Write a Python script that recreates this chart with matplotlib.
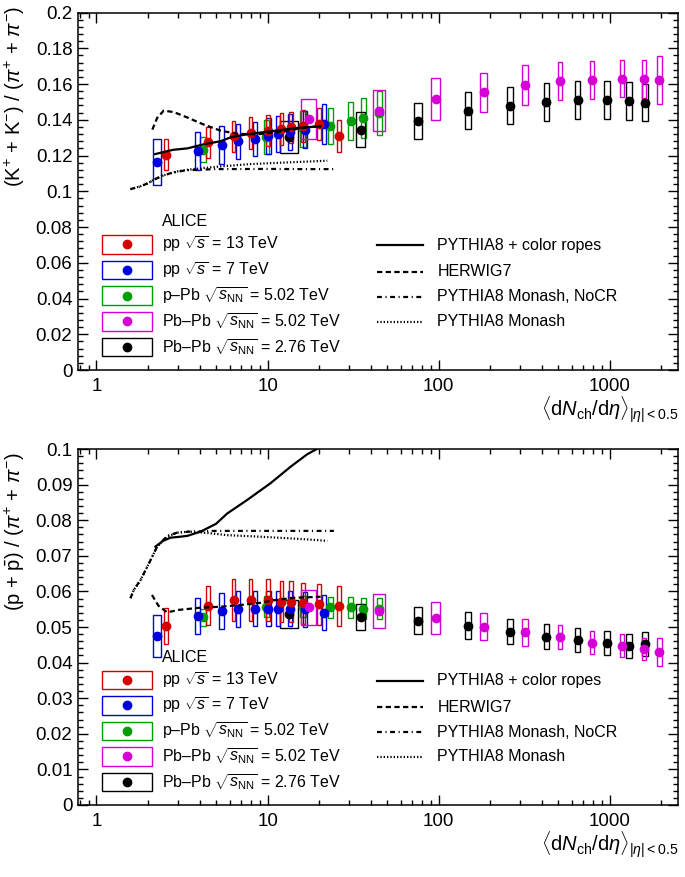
import matplotlib
matplotlib.use("Agg")
import matplotlib.pyplot as plt
from matplotlib.patches import Rectangle
from matplotlib.ticker import LogLocator, MultipleLocator, NullFormatter

plt.rcParams["font.family"] = ["Liberation Sans", "DejaVu Sans"]
plt.rcParams["mathtext.fontset"] = "custom"
plt.rcParams["mathtext.rm"] = "Liberation Sans"
plt.rcParams["mathtext.it"] = "Liberation Sans:italic"
plt.rcParams["mathtext.bf"] = "Liberation Sans:bold"

# ---- ALICE data ----
# pp 13 TeV
pp13_x = [2.55, 4.50, 6.32, 7.95, 10.02, 12.04, 13.77, 16.17, 20.02, 26.02]
pp13_dx = [0.07, 0.12, 0.16, 0.20, 0.25, 0.30, 0.35, 0.40, 0.50, 0.65]
pp13_kpi = [0.1204, 0.1274, 0.1307, 0.1326, 0.1339, 0.1348, 0.1357, 0.1367, 0.1376, 0.1307]
pp13_kpi_sys = [0.0087, 0.0088, 0.0088, 0.0088, 0.0088, 0.0088, 0.0088, 0.0089, 0.0089, 0.0090]
pp13_ppi = [0.0503, 0.0560, 0.0576, 0.0576, 0.0576, 0.0571, 0.0571, 0.0567, 0.0564, 0.0559]
pp13_ppi_sys = [0.0050, 0.0055, 0.0060, 0.0058, 0.0058, 0.0058, 0.0058, 0.0058, 0.0057, 0.0055]

# pp 7 TeV
pp7_x = [2.26, 3.90, 5.40, 6.72, 8.45, 10.1, 11.5, 13.5, 16.5, 21.3]
pp7_dx = [0.12, 0.14, 0.17, 0.21, 0.25, 0.30, 0.33, 0.40, 0.50, 0.60]
pp7_kpi = [0.1164, 0.1227, 0.1260, 0.1279, 0.1294, 0.1310, 0.1320, 0.1331, 0.1345, 0.1376]
pp7_kpi_sys = [0.0128, 0.0106, 0.0105, 0.0100, 0.0095, 0.0100, 0.0100, 0.0100, 0.0105, 0.0110]
pp7_ppi = [0.0475, 0.0531, 0.0545, 0.0551, 0.0552, 0.0552, 0.0552, 0.0552, 0.0550, 0.0540]
pp7_ppi_sys = [0.0058, 0.0050, 0.0050, 0.0050, 0.0049, 0.0049, 0.0049, 0.0049, 0.0049, 0.0049]

# p-Pb 5.02 TeV
ppb_x = [4.2, 9.8, 16.1, 23.2, 30.5, 36.2, 45.0]
ppb_dx = [0.15, 0.33, 0.55, 0.80, 1.05, 1.25, 1.50]
ppb_kpi = [0.1232, 0.1302, 0.1350, 0.1367, 0.1395, 0.1410, 0.1438]
ppb_kpi_sys = [0.0070, 0.0095, 0.0100, 0.0100, 0.0107, 0.0112, 0.0124]
ppb_ppi = [0.0527, 0.0557, 0.0557, 0.0555, 0.0555, 0.0552, 0.0552]
ppb_ppi_sys = [0.0024, 0.0030, 0.0030, 0.0030, 0.0030, 0.0030, 0.0030]

# Pb-Pb 5.02 TeV
pbpb5_x = [17.5, 44.9, 96.3, 183, 318, 512, 786, 1180, 1587, 1943]
pbpb5_dx = [1.8, 3.4, 5.8, 8, 12, 16, 22, 33, 46, 60]
pbpb5_kpi = [0.1404, 0.1451, 0.1516, 0.1554, 0.1595, 0.1617, 0.1623, 0.1630, 0.1628, 0.1621]
pbpb5_kpi_sys = [0.0110, 0.0116, 0.0117, 0.0110, 0.0110, 0.0105, 0.0105, 0.0102, 0.0106, 0.0134]
pbpb5_ppi = [0.0555, 0.0546, 0.0526, 0.0501, 0.0485, 0.0473, 0.0456, 0.0447, 0.0438, 0.0429]
pbpb5_ppi_sys = [0.0049, 0.0048, 0.0045, 0.0038, 0.0037, 0.0034, 0.0033, 0.0032, 0.0032, 0.0039]

# Pb-Pb 2.76 TeV
pbpb2_x = [13.4, 35, 76, 149, 261, 426, 649, 966, 1294, 1601]
pbpb2_dx = [1.6, 2.0, 4.0, 6.0, 9.0, 15, 23, 37, 49, 60]
pbpb2_kpi = [0.1303, 0.1345, 0.1395, 0.1451, 0.1479, 0.1500, 0.1509, 0.1509, 0.1507, 0.1496]
pbpb2_kpi_sys = [0.0089, 0.0096, 0.0100, 0.0103, 0.0105, 0.0106, 0.0107, 0.0107, 0.0107, 0.0105]
pbpb2_ppi = [0.0536, 0.0529, 0.0517, 0.0504, 0.0487, 0.0473, 0.0463, 0.0454, 0.0447, 0.0452]
pbpb2_ppi_sys = [0.0040, 0.0037, 0.0038, 0.0037, 0.0036, 0.0035, 0.0034, 0.0034, 0.0034, 0.0033]

# ---- model curves ----
ropes_kpi_x = [2.2, 2.8, 3.4, 4.2, 5.3, 6.1, 7.5, 9.5, 12, 14.9, 17.5, 20.4]
ropes_kpi = [0.1208, 0.1232, 0.1240, 0.1262, 0.1280, 0.1302, 0.1318, 0.1331, 0.1343, 0.1354, 0.1359, 0.1363]
herwig_kpi_x = [2.12, 2.26, 2.47, 2.83, 3.39, 4.24, 5.31, 6.6, 8.5, 11, 14, 18, 20.5]
herwig_kpi = [0.1345, 0.1410, 0.1451, 0.1443, 0.1413, 0.1373, 0.1339, 0.1322, 0.1318, 0.1328, 0.1345, 0.1360, 0.1365]
nocr_kpi_x = [1.58, 1.8, 2.0, 2.16, 2.4, 2.71, 3.0, 3.39, 5, 10, 16, 24.4]
nocr_kpi = [0.1012, 0.1027, 0.1045, 0.1064, 0.1085, 0.1101, 0.1110, 0.1118, 0.1124, 0.1125, 0.1124, 0.1124]
monash_kpi_x = [1.58, 1.8, 2.0, 2.16, 2.4, 2.71, 3.0, 3.39, 4.2, 5.3, 7.9, 12, 16, 22.3]
monash_kpi = [0.1012, 0.1027, 0.1045, 0.1064, 0.1085, 0.1101, 0.1112, 0.1120, 0.1130, 0.1139, 0.1152, 0.1160, 0.1165, 0.1171]

ropes_ppi_x = [2.21, 2.45, 2.71, 3.0, 3.39, 4.06, 5.0, 5.81, 7.6, 10.4, 13.6, 17, 19.7]
ropes_ppi = [0.0726, 0.0742, 0.0751, 0.0753, 0.0756, 0.0768, 0.0790, 0.0819, 0.0857, 0.0904, 0.0950, 0.0985, 0.1002]
herwig_ppi_x = [2.11, 2.3, 2.59, 3.0, 4.0, 5.3, 7.0, 9.1, 10.8, 14.2, 20.4]
herwig_ppi = [0.0590, 0.0560, 0.0541, 0.0548, 0.0554, 0.0557, 0.0562, 0.0568, 0.0575, 0.0582, 0.0585]
nocr_ppi_x = [1.58, 1.65, 1.81, 2.07, 2.26, 2.59, 2.96, 3.5, 5, 10, 16, 24.4]
nocr_ppi = [0.0581, 0.0604, 0.0632, 0.0688, 0.0726, 0.0756, 0.0765, 0.0768, 0.0770, 0.0770, 0.0770, 0.0770]
monash_ppi_x = [1.58, 1.65, 1.81, 2.07, 2.26, 2.59, 2.96, 3.5, 4.5, 5.8, 8, 11.4, 16, 22.3]
monash_ppi = [0.0581, 0.0604, 0.0632, 0.0688, 0.0726, 0.0754, 0.0765, 0.0768, 0.0764, 0.0758, 0.0755, 0.0751, 0.0747, 0.0742]

RED, BLUE, GREEN, MAG, BLK = "#d40000", "#0000dd", "#009e00", "#d600d6", "black"

series_labels = [r"pp $\sqrt{s}$ = 13 TeV", r"pp $\sqrt{s}$ = 7 TeV",
                 r"p–Pb $\sqrt{s_{\mathrm{NN}}}$ = 5.02 TeV",
                 r"Pb–Pb $\sqrt{s_{\mathrm{NN}}}$ = 5.02 TeV",
                 r"Pb–Pb $\sqrt{s_{\mathrm{NN}}}$ = 2.76 TeV"]
series_colors = [RED, BLUE, GREEN, MAG, BLK]
model_labels = ["PYTHIA8 + color ropes", "HERWIG7", "PYTHIA8 Monash, NoCR", "PYTHIA8 Monash"]
model_styles = ["-", (0, (2.4, 1.5)), (0, (2.2, 1.6, 0.5, 1.6)), (0, (0.6, 0.9))]

xlabel = r"$\langle\mathrm{d}N_{\mathrm{ch}}/\mathrm{d}\eta\rangle_{|\eta|<0.5}$"

fig = plt.figure(figsize=(6.85, 8.77), dpi=100)
ax1 = fig.add_axes([0.1139, 0.5781, 0.8759, 0.4076])
ax2 = fig.add_axes([0.1139, 0.0821, 0.8759, 0.4059])


def draw_boxes(ax, xs, dxs, ys, dys, color):
    for x, dx, y, dy in zip(xs, dxs, ys, dys):
        ax.add_patch(Rectangle((x - dx, y - dy), 2 * dx, 2 * dy, fill=False,
                               ec=color, lw=1.0, zorder=2))
    ax.plot(xs, ys, "o", color=color, ms=6, mec=color, zorder=3)


def panel(ax, data, models, ymax, ystep, yminor, ylabel, label_top):
    for xs, dxs, ys, dys, c in data:
        draw_boxes(ax, xs, dxs, ys, dys, c)
    for (mx, my), ls in zip(models, model_styles):
        ax.plot(mx, my, color="black", lw=1.6, linestyle=ls, zorder=4)
    ax.set_xscale("log")
    ax.set_xlim(0.78, 2500)
    ax.set_ylim(0, ymax)
    ax.set_xticks([1, 10, 100, 1000])
    ax.set_xticklabels(["1", "10", "100", "1000"])
    ax.xaxis.set_minor_locator(LogLocator(base=10, subs=range(2, 10), numticks=20))
    ax.xaxis.set_minor_formatter(NullFormatter())
    n = int(round(ymax / ystep))
    yt = [i * ystep for i in range(n + 1)]
    ax.set_yticks(yt)
    ax.set_yticklabels(["0"] + ["%g" % round(v, 3) for v in yt[1:]])
    ax.yaxis.set_minor_locator(MultipleLocator(yminor))
    ax.tick_params(which="both", direction="in", top=True, right=True,
                   labelsize=13.5, width=1.0)
    ax.tick_params(which="major", length=7, pad=4)
    ax.tick_params(which="minor", length=3.8)
    ax.tick_params(axis="x", which="major", pad=6)
    for s in ax.spines.values():
        s.set_linewidth(1.1)
    ax.text(-0.105, label_top, ylabel, transform=ax.transAxes, rotation=90,
            ha="center", va="top", fontsize=14.5)
    ax.annotate(xlabel, xy=(1.0, 0.0), xycoords="axes fraction",
                xytext=(0, -17.5), textcoords="offset points",
                ha="right", va="top", fontsize=14.5)

    # legend (drawn by hand, ROOT style)
    ax.text(0.1395, 0.415, "ALICE", transform=ax.transAxes, ha="left",
            va="center", fontsize=11.5)
    rows = [0.3516, 0.2797, 0.2081, 0.1365, 0.0643]
    for yr, lab, c in zip(rows, series_labels, series_colors):
        ax.add_patch(Rectangle((0.0395, yr - 0.026), 0.0833, 0.052, fill=False,
                               ec=c, lw=1.0, transform=ax.transAxes, clip_on=False))
        ax.plot([0.0812], [yr], "o", color=c, ms=6, transform=ax.transAxes, clip_on=False)
        ax.text(0.1395, yr, lab, transform=ax.transAxes, ha="left", va="center",
                fontsize=11.5)
    mrows = [0.3497, 0.275, 0.205, 0.135]
    for yr, lab, ls in zip(mrows, model_labels, model_styles):
        ax.plot([0.498, 0.5755], [yr, yr], color="black", lw=1.6, linestyle=ls,
                transform=ax.transAxes, clip_on=False)
        ax.text(0.599, yr, lab, transform=ax.transAxes, ha="left", va="center",
                fontsize=11.5)


kpi_data = [
    (ppb_x, ppb_dx, ppb_kpi, ppb_kpi_sys, GREEN),
    (pbpb2_x, pbpb2_dx, pbpb2_kpi, pbpb2_kpi_sys, BLK),
    (pp7_x, pp7_dx, pp7_kpi, pp7_kpi_sys, BLUE),
    (pp13_x, pp13_dx, pp13_kpi, pp13_kpi_sys, RED),
    (pbpb5_x, pbpb5_dx, pbpb5_kpi, pbpb5_kpi_sys, MAG),
]
kpi_models = [(ropes_kpi_x, ropes_kpi), (herwig_kpi_x, herwig_kpi),
              (nocr_kpi_x, nocr_kpi), (monash_kpi_x, monash_kpi)]
ppi_data = [
    (ppb_x, ppb_dx, ppb_ppi, ppb_ppi_sys, GREEN),
    (pbpb2_x, pbpb2_dx, pbpb2_ppi, pbpb2_ppi_sys, BLK),
    (pp7_x, pp7_dx, pp7_ppi, pp7_ppi_sys, BLUE),
    (pp13_x, pp13_dx, pp13_ppi, pp13_ppi_sys, RED),
    (pbpb5_x, pbpb5_dx, pbpb5_ppi, pbpb5_ppi_sys, MAG),
]
ppi_models = [(ropes_ppi_x, ropes_ppi), (herwig_ppi_x, herwig_ppi),
              (nocr_ppi_x, nocr_ppi), (monash_ppi_x, monash_ppi)]

panel(ax1, kpi_data, kpi_models, 0.2, 0.02, 0.004,
      r"(K$^{+}$ + K$^{-}$) / ($\pi^{+}$ + $\pi^{-}$)", 1.02)
panel(ax2, ppi_data, ppi_models, 0.1, 0.01, 0.002,
      r"(p + $\bar{\mathrm{p}}$) / ($\pi^{+}$ + $\pi^{-}$)", 0.99)

fig.savefig("out.png", dpi=100)
